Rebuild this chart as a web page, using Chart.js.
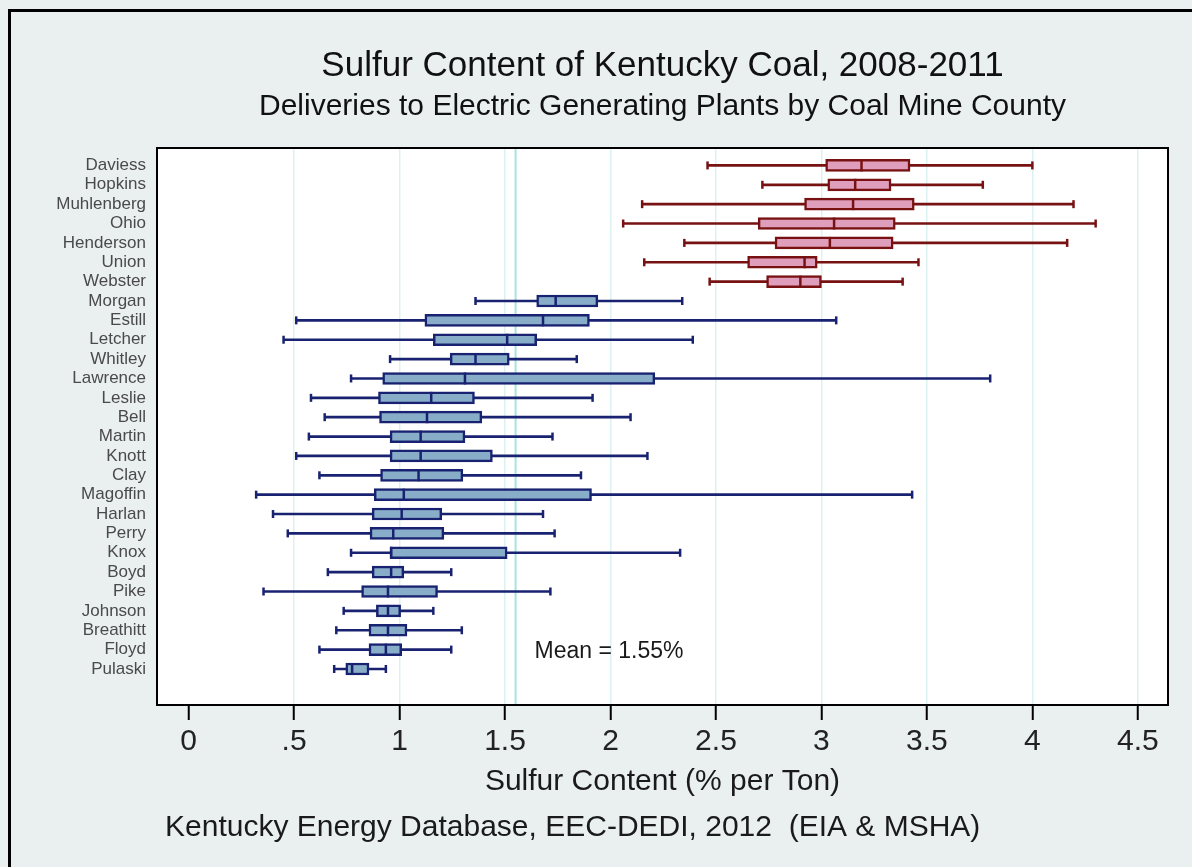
<!DOCTYPE html>
<html>
<head>
<meta charset="utf-8">
<script src="https://cdn.jsdelivr.net/npm/chart.js@4.4.1/dist/chart.umd.min.js"></script>
<style>
  html, body { margin: 0; padding: 0; background: #eaf0f0; }
  #wrap { width: 1192px; height: 867px; }
</style>
</head>
<body>
<div id="wrap"><canvas id="c" width="1192" height="867"></canvas></div>
<script>
// ---- data ----
const counties = ['Daviess','Hopkins','Muhlenberg','Ohio','Henderson','Union','Webster','Morgan','Estill','Letcher','Whitley','Lawrence','Leslie','Bell','Martin','Knott','Clay','Magoffin','Harlan','Perry','Knox','Boyd','Pike','Johnson','Breathitt','Floyd','Pulaski'];
const field = ['W','W','W','W','W','W','W','E','E','E','E','E','E','E','E','E','E','E','E','E','E','E','E','E','E','E','E'];
const minVals = [2.46, 2.72, 2.15, 2.06, 2.35, 2.16, 2.47, 1.36, 0.51, 0.45, 0.955, 0.77, 0.58, 0.645, 0.57, 0.51, 0.62, 0.32, 0.40, 0.47, 0.77, 0.66, 0.355, 0.735, 0.70, 0.62, 0.69];
const q1Vals  = [3.02, 3.03, 2.92, 2.70, 2.78, 2.65, 2.74, 1.65, 1.12, 1.16, 1.24, 0.92, 0.90, 0.905, 0.955, 0.955, 0.91, 0.88, 0.87, 0.86, 0.955, 0.87, 0.82, 0.89, 0.855, 0.855, 0.745];
const medVals = [3.19, 3.16, 3.15, 3.06, 3.04, 2.92, 2.90, 1.74, 1.68, 1.51, 1.36, 1.31, 1.15, 1.13, 1.10, 1.10, 1.09, 1.02, 1.01, 0.97, 0.96, 0.96, 0.945, 0.945, 0.945, 0.935, 0.775];
const q3Vals  = [3.42, 3.33, 3.44, 3.35, 3.34, 2.98, 3.00, 1.94, 1.90, 1.65, 1.52, 2.21, 1.355, 1.39, 1.31, 1.44, 1.30, 1.91, 1.20, 1.21, 1.51, 1.02, 1.18, 1.005, 1.035, 1.01, 0.855];
const maxVals = [4.00, 3.765, 4.195, 4.30, 4.165, 3.46, 3.385, 2.34, 3.07, 2.39, 1.84, 3.80, 1.915, 2.095, 1.725, 2.175, 1.86, 3.43, 1.68, 1.735, 2.33, 1.245, 1.715, 1.16, 1.295, 1.245, 0.935];
const xTickValues = [0, 0.5, 1, 1.5, 2, 2.5, 3, 3.5, 4, 4.5];
const xTickLabels = ['0', '.5', '1', '1.5', '2', '2.5', '3', '3.5', '4', '4.5'];
const meanValue = 1.55;
const meanLabel = 'Mean = 1.55%';
const meanLabelPos = { x: 1.64, y: 25.08 };
const titleText = 'Sulfur Content of Kentucky Coal, 2008-2011';
const subtitleText = 'Deliveries to Electric Generating Plants by Coal Mine County';
const xTitleText = 'Sulfur Content (% per Ton)';
const captionText = 'Kentucky Energy Database, EEC-DEDI, 2012  (EIA & MSHA)';

// ---- styles ----
const FONT = "'Liberation Sans', Arial, Helvetica, sans-serif";
const lineCol = { W: '#781212', E: '#182270' };
const fillCol = { W: '#df9ebb', E: '#87adc9' };
const colLine = i => lineCol[field[i]];
const colFill = i => fillCol[field[i]];

const whiskerData = counties.map((c, i) => ({ y: i, x: [minVals[i], maxVals[i]] }));
const boxData = counties.map((c, i) => ({ y: i, x: [q1Vals[i], q3Vals[i]] }));
const medianData = counties.map((c, i) => ({ y: i, x: medVals[i] }));
const capData = counties.map((c, i) => ({ y: i, x: minVals[i] })).concat(counties.map((c, i) => ({ y: i, x: maxVals[i] })));

const decor = {
  id: 'decor',
  beforeDraw(chart) {
    const ctx = chart.ctx, a = chart.chartArea;
    ctx.save();
    ctx.fillStyle = '#eaf0f0';
    ctx.fillRect(0, 0, chart.width, chart.height);
    ctx.fillStyle = '#ffffff';
    ctx.fillRect(a.left, a.top, a.right - a.left, a.bottom - a.top);
    ctx.strokeStyle = '#000';
    ctx.lineWidth = 3;
    ctx.beginPath();
    ctx.moveTo(9.5, chart.height);
    ctx.lineTo(9.5, 10.5);
    ctx.lineTo(chart.width, 10.5);
    ctx.stroke();
    ctx.restore();
  },
  beforeDatasetsDraw(chart) {
    const ctx = chart.ctx, a = chart.chartArea;
    const px = chart.scales.x.getPixelForValue(meanValue);
    ctx.save();
    ctx.strokeStyle = '#a6e4de';
    ctx.lineWidth = 2;
    ctx.beginPath();
    ctx.moveTo(px, a.top);
    ctx.lineTo(px, a.bottom);
    ctx.stroke();
    ctx.restore();
  },
  afterDatasetsDraw(chart) {
    const ctx = chart.ctx, a = chart.chartArea;
    ctx.save();
    ctx.strokeStyle = '#000';
    ctx.lineWidth = 2;
    ctx.strokeRect(a.left, a.top, a.right - a.left, a.bottom - a.top);
    ctx.fillStyle = '#1a1a1a';
    ctx.font = '23px ' + FONT;
    ctx.textAlign = 'left';
    ctx.textBaseline = 'middle';
    ctx.fillText(meanLabel, chart.scales.x.getPixelForValue(meanLabelPos.x), chart.scales.y.getPixelForValue(meanLabelPos.y));
    ctx.restore();
  },
  afterDraw(chart) {
    const ctx = chart.ctx, a = chart.chartArea;
    const cx = (a.left + a.right) / 2;
    ctx.save();
    ctx.fillStyle = '#111';
    ctx.textBaseline = 'middle';
    ctx.textAlign = 'center';
    ctx.font = '35px ' + FONT;
    ctx.fillText(titleText, cx, 66);
    ctx.font = '30px ' + FONT;
    ctx.fillText(subtitleText, cx, 107);
    ctx.fillStyle = '#1a1a1a';
    ctx.textAlign = 'left';
    ctx.font = '30px ' + FONT;
    ctx.fillText(captionText, 165, 828);
    ctx.restore();
  }
};

new Chart(document.getElementById('c'), {
  type: 'bar',
  data: {
    datasets: [
      { type: 'bar', indexAxis: 'y', grouped: false, data: whiskerData, barThickness: 2, borderWidth: 0,
        backgroundColor: ctx => colLine(ctx.dataIndex), order: 4 },
      { type: 'bar', indexAxis: 'y', grouped: false, data: boxData, barThickness: 12, borderWidth: 2.5, borderSkipped: false,
        backgroundColor: ctx => colFill(ctx.dataIndex), borderColor: ctx => colLine(ctx.dataIndex), order: 3 },
      { type: 'scatter', data: medianData, pointStyle: 'line', rotation: 90, radius: 6, hoverRadius: 6, borderWidth: 2.5,
        borderColor: ctx => colLine(ctx.dataIndex), backgroundColor: ctx => colLine(ctx.dataIndex), order: 2 },
      { type: 'scatter', data: capData, pointStyle: 'line', rotation: 90, radius: 4, hoverRadius: 4, borderWidth: 2.5,
        borderColor: ctx => colLine(ctx.raw ? ctx.raw.y : 0), backgroundColor: ctx => colLine(ctx.raw ? ctx.raw.y : 0), order: 1 }
    ]
  },
  options: {
    responsive: false,
    animation: false,
    devicePixelRatio: 1,
    layout: { padding: { top: 148, left: 0, right: 24, bottom: 0 } },
    plugins: {
      legend: { display: false },
      tooltip: { enabled: false },
      title: { display: false },
      subtitle: { display: false }
    },
    scales: {
      x: {
        type: 'linear', min: -0.150, max: 4.643, stacked: false, offset: false,
        afterBuildTicks: s => { s.ticks = xTickValues.map(v => ({ value: v })); },
        afterFit: s => { s.height = 162; },
        ticks: { autoSkip: false, maxRotation: 0, padding: 4, color: '#222', font: { family: FONT, size: 30 },
          callback: v => { const k = xTickValues.indexOf(v); return k >= 0 ? xTickLabels[k] : ''; } },
        grid: { offset: false, drawTicks: true, tickLength: 15, tickWidth: 2, tickColor: '#000', lineWidth: 1.5,
          color: ctx => (ctx.tick && ctx.tick.value === 0) ? 'rgba(0,0,0,0)' : '#dcf2f0' },
        border: { display: false },
        title: { display: true, text: xTitleText, color: '#1a1a1a', font: { family: FONT, size: 30 }, padding: { top: 0, bottom: 67 } }
      },
      y: {
        type: 'linear', reverse: true, min: -0.9, max: 27.86, offset: false,
        afterBuildTicks: s => { s.ticks = counties.map((c, i) => ({ value: i })); },
        afterFit: s => { s.width = 157; },
        ticks: { autoSkip: false, padding: 11, color: '#4a4a4a', font: { family: FONT, size: 17 },
          callback: v => counties[v] !== undefined ? counties[v] : '' },
        grid: { display: false, drawTicks: false, offset: false },
        border: { display: false }
      }
    }
  },
  plugins: [decor]
});
</script>
</body>
</html>
